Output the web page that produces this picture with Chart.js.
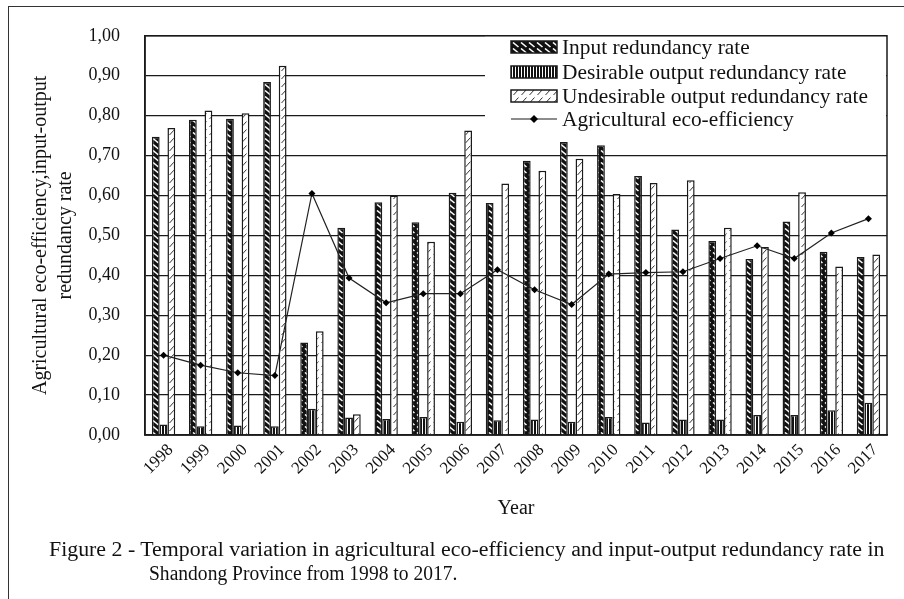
<!DOCTYPE html>
<html>
<head>
<meta charset="utf-8">
<script src="https://cdn.jsdelivr.net/npm/chart.js@4.4.0/dist/chart.umd.min.js"></script>
<style>
    body { margin: 0; background: #fff; }
    #wrap { position: relative; width: 904px; height: 599px; overflow: hidden; font-family: "Liberation Serif", "Times New Roman", serif; }
    #frame { position: absolute; left: 8px; top: 6px; width: 900px; height: 600px; border-left: 1.5px solid #333; border-top: 1.5px solid #333; }
    #chart { position: absolute; left: 0; top: 0; }
    .caption { position: absolute; font-size: 20.5px; line-height: 24px; color: #111; white-space: nowrap; transform-origin: left center; }
</style>
</head>
<body>
<div id="wrap">
    <div id="frame"></div>
    <canvas id="chart" width="904" height="599"></canvas>
    <div class="caption" data-width="835" style="left:49px; top:537px;">Figure 2 - Temporal variation in agricultural eco-efficiency and input-output redundancy rate in</div>
    <div class="caption" data-width="308" style="left:149px; top:561px;">Shandong Province from 1998 to 2017.</div>
</div>
<script>
// Data
const years = ['1998', '1999', '2000', '2001', '2002', '2003', '2004', '2005', '2006', '2007',
               '2008', '2009', '2010', '2011', '2012', '2013', '2014', '2015', '2016', '2017'];
const inputRate = [0.747, 0.790, 0.792, 0.884, 0.232, 0.519, 0.583, 0.533, 0.607, 0.581,
                   0.687, 0.734, 0.726, 0.649, 0.515, 0.486, 0.441, 0.535, 0.459, 0.446];
const desirableRate = [0.026, 0.022, 0.024, 0.022, 0.066, 0.044, 0.040, 0.045, 0.033, 0.037,
                       0.039, 0.033, 0.045, 0.031, 0.039, 0.039, 0.050, 0.050, 0.062, 0.081];
const undesirableRate = [0.769, 0.813, 0.806, 0.925, 0.260, 0.052, 0.600, 0.484, 0.763, 0.630,
                         0.662, 0.692, 0.604, 0.631, 0.638, 0.519, 0.471, 0.608, 0.422, 0.452];
const ecoEfficiency = [0.200, 0.175, 0.156, 0.149, 0.605, 0.393, 0.331, 0.354, 0.354, 0.414,
                       0.364, 0.327, 0.403, 0.407, 0.409, 0.442, 0.474, 0.442, 0.506, 0.542];
const seriesNames = ['Input redundancy rate', 'Desirable output redundancy rate',
                     'Undesirable output redundancy rate', 'Agricultural eco-efficiency'];

const serif = '"Liberation Serif", "Times New Roman", serif';
const ink = '#1a1a1a';

// Caption lines are stretched to the widths they have in the figure
document.querySelectorAll('.caption').forEach(function(el) {
    const target = Number(el.dataset.width);
    el.style.transform = 'scaleX(' + (target / el.scrollWidth) + ')';
});

// Fill patterns
function makePattern(w, h, draw) {
    const c = document.createElement('canvas');
    c.width = w;
    c.height = h;
    const g = c.getContext('2d');
    draw(g, w, h);
    return g.createPattern(c, 'repeat');
}
const ctx = document.getElementById('chart').getContext('2d');
const inputPattern = makePattern(8, 6, function(g, w, h) {
    g.fillStyle = '#111';
    g.fillRect(0, 0, w, h);
    g.strokeStyle = '#fff';
    g.lineWidth = 1.6;
    g.beginPath();
    g.moveTo(1, 0.5);
    g.lineTo(6.5, 5);
    g.stroke();
});
const desirablePattern = makePattern(3, 2, function(g, w, h) {
    g.fillStyle = '#fff';
    g.fillRect(0, 0, w, h);
    g.fillStyle = '#111';
    g.fillRect(0, 0, 2, h);
});
const undesirablePattern = makePattern(8, 8, function(g, w, h) {
    g.fillStyle = '#fff';
    g.fillRect(0, 0, w, h);
    g.strokeStyle = '#333';
    g.lineWidth = 1;
    g.beginPath();
    g.moveTo(1.5, 7);
    g.lineTo(6.5, 1.5);
    g.stroke();
});

// Plot frame + legend drawn on top of the chart area
const framePlugin = {
    id: 'frameAndLegend',
    afterDatasetsDraw(chart) {
        const c = chart.ctx;
        const a = chart.chartArea;
        c.save();
        c.strokeStyle = ink;
        c.lineWidth = 1.5;
        c.strokeRect(a.left, a.top, a.right - a.left, a.bottom - a.top);

        // legend box
        c.fillStyle = '#fff';
        c.fillRect(485, a.top + 1, a.right - 486, 101);
        const fills = [inputPattern, desirablePattern, undesirablePattern];
        const rows = [47, 72, 96, 119];
        const sx = 511, sw = 46, sh = 12;
        for (let i = 0; i < 3; i++) {
            c.fillStyle = fills[i];
            c.fillRect(sx, rows[i] - sh / 2, sw, sh);
            c.strokeStyle = ink;
            c.lineWidth = 1.5;
            c.strokeRect(sx, rows[i] - sh / 2, sw, sh);
        }
        c.strokeStyle = ink;
        c.lineWidth = 1.2;
        c.beginPath();
        c.moveTo(sx, rows[3]);
        c.lineTo(sx + sw, rows[3]);
        c.stroke();
        c.fillStyle = '#000';
        c.beginPath();
        c.moveTo(sx + sw / 2, rows[3] - 4);
        c.lineTo(sx + sw / 2 + 4, rows[3]);
        c.lineTo(sx + sw / 2, rows[3] + 4);
        c.lineTo(sx + sw / 2 - 4, rows[3]);
        c.closePath();
        c.fill();

        c.font = '21.4px ' + serif;
        c.textBaseline = 'middle';
        c.textAlign = 'left';
        c.fillStyle = '#111';
        for (let i = 0; i < 4; i++) {
            c.fillText(seriesNames[i], 562, rows[i] + 1);
        }
        c.restore();
    }
};

function barSet(label, data, fill) {
    return {
        type: 'bar',
        label: label,
        data: data,
        backgroundColor: fill,
        borderColor: ink,
        borderWidth: 1.5,
        borderSkipped: 'bottom',
        categoryPercentage: 0.63,
        barPercentage: 1.0,
        order: 2
    };
}

new Chart(ctx, {
    type: 'bar',
    data: {
        labels: years,
        datasets: [
            barSet(seriesNames[0], inputRate, inputPattern),
            barSet(seriesNames[1], desirableRate, desirablePattern),
            barSet(seriesNames[2], undesirableRate, undesirablePattern),
            {
                type: 'line',
                label: seriesNames[3],
                data: ecoEfficiency,
                borderColor: '#222',
                borderWidth: 1.2,
                pointStyle: 'rectRot',
                pointRadius: 3.5,
                pointBackgroundColor: '#000',
                pointBorderColor: '#000',
                pointBorderWidth: 0,
                tension: 0,
                order: 0
            }
        ]
    },
    options: {
        responsive: false,
        animation: false,
        devicePixelRatio: 1,
        layout: {
            padding: { left: 0, top: 32, right: 17, bottom: 78 }
        },
        plugins: {
            legend: { display: false },
            tooltip: { enabled: false }
        },
        scales: {
            x: {
                grid: { display: false, drawTicks: false },
                border: { display: true, color: ink, width: 1.5 },
                ticks: {
                    color: '#111',
                    font: { family: serif, size: 17 },
                    maxRotation: 45,
                    minRotation: 45,
                    padding: 5,
                    labelOffset: 7,
                    autoSkip: false
                },
                title: {
                    display: true,
                    text: 'Year',
                    color: '#111',
                    font: { family: serif, size: 20 },
                    padding: { top: 0, bottom: 0 }
                },
                afterFit: function(scale) { scale.height = 86; }
            },
            y: {
                min: 0,
                max: 1,
                grid: { color: ink, lineWidth: 1.2, drawTicks: false },
                border: { display: true, color: ink, width: 1.5 },
                ticks: {
                    stepSize: 0.1,
                    color: '#111',
                    font: { family: serif, size: 18 },
                    padding: 25,
                    callback: function(value) {
                        return value.toFixed(2).replace('.', ',');
                    }
                },
                title: {
                    display: true,
                    text: ['Agricultural eco-efficiency,input-output', 'redundancy rate'],
                    color: '#111',
                    font: { family: serif, size: 20, lineHeight: 1.25 },
                    padding: { top: 28, bottom: 0 }
                },
                afterFit: function(scale) { scale.width = 145; }
            }
        }
    },
    plugins: [framePlugin]
});
</script>
</body>
</html>
